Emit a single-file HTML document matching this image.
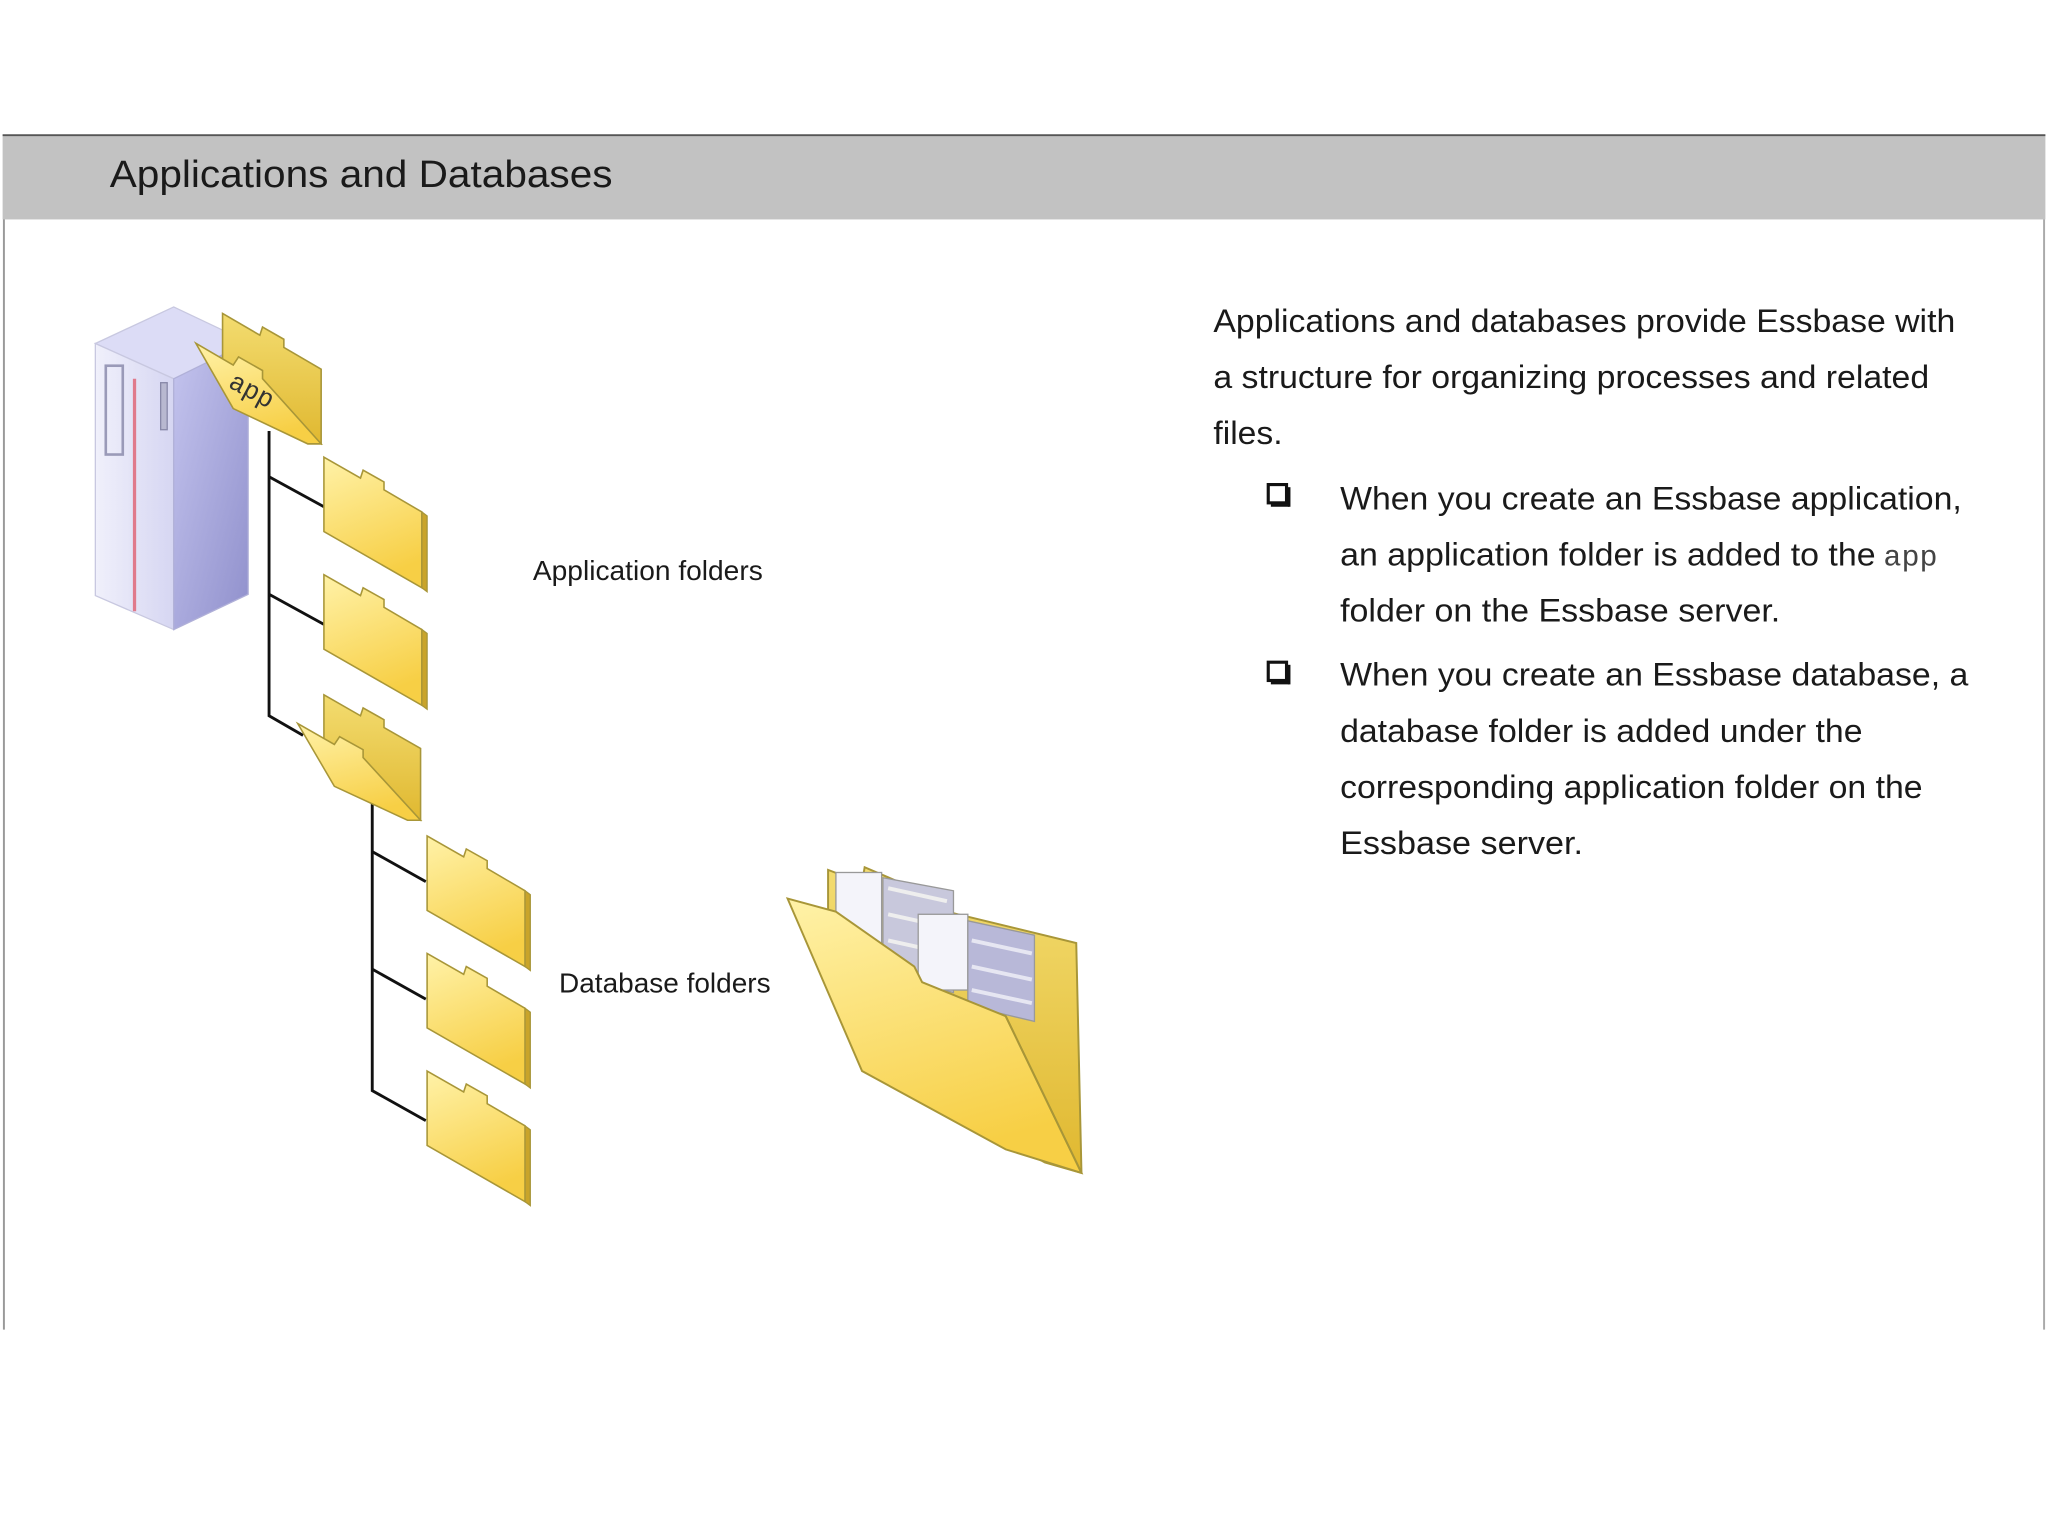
<!DOCTYPE html>
<html><head><meta charset="utf-8"><style>
html,body{margin:0;padding:0;background:#fff;width:2048px;height:1536px;overflow:hidden}
svg{display:block}
text{font-family:"Liberation Sans",Arial,sans-serif;fill:#1a1a1a}
</style></head><body>
<svg width="2048" height="1536" viewBox="0 0 1568 1176" xmlns="http://www.w3.org/2000/svg">
<defs>
<linearGradient id="fy" x1="0" y1="0" x2="0.3" y2="1">
<stop offset="0" stop-color="#fff2a8"/><stop offset="1" stop-color="#f7cf45"/></linearGradient>
<linearGradient id="fyd" x1="0" y1="0" x2="0" y2="1">
<stop offset="0" stop-color="#f3dc70"/><stop offset="1" stop-color="#e0b830"/></linearGradient>
<linearGradient id="sf" x1="0" y1="0" x2="1" y2="0">
<stop offset="0" stop-color="#f0f0fb"/><stop offset="1" stop-color="#d6d6f2"/></linearGradient>
<linearGradient id="ss" x1="0" y1="0" x2="1" y2="1">
<stop offset="0" stop-color="#c4c4ee"/><stop offset="1" stop-color="#9090cc"/></linearGradient>
<g id="fold">
<path d="M0,0 L28,16 L30,10 L46,19 L46,25 L75,42 L75,100 L0,57 Z" fill="url(#fy)" stroke="#a89638" stroke-width="1.2"/>
<path d="M75,42 L79,45 L79,103 L75,100 Z" fill="#c9a42a" stroke="#a89638" stroke-width="1"/>
</g>
<g id="ofold">
<path d="M20,0 L48,16 L50,10 L66,19 L66,25 L94,41 L94,96 L20,53 Z" fill="url(#fyd)" stroke="#a89638" stroke-width="1.2"/>
<path d="M0,22 L28,38 L32,32 L50,42 L50,48 L94,96 L84,96 L28,70 Z" fill="url(#fy)" stroke="#a89638" stroke-width="1.2"/>
</g>
</defs>
<rect x="0" y="0" width="1568" height="1176" fill="#fff"/>
<rect x="2" y="103" width="1564" height="65" fill="#c2c2c2"/>
<line x1="2" y1="103.5" x2="1566" y2="103.5" stroke="#555" stroke-width="1.5"/>
<line x1="3" y1="168" x2="3" y2="1018" stroke="#999" stroke-width="1.5"/>
<line x1="1565" y1="168" x2="1565" y2="1018" stroke="#aaa" stroke-width="1.5"/>
<text x="84" y="143" font-size="29" textLength="385" lengthAdjust="spacingAndGlyphs">Applications and Databases</text>

<path d="M73,263 L133,235 L190,262 L133,290 Z" fill="#dcdcf6" stroke="#c8c8e0"/>
<path d="M73,263 L133,290 L133,482 L73,456 Z" fill="url(#sf)" stroke="#c8c8e0"/>
<path d="M133,290 L190,262 L190,455 L133,482 Z" fill="url(#ss)" stroke="#b0b0d8"/>
<rect x="81" y="280" width="13" height="68" fill="none" stroke="#9a9ab8" stroke-width="2"/>
<line x1="103" y1="290" x2="103" y2="468" stroke="#e07a8c" stroke-width="2.5"/>
<rect x="123" y="293" width="5" height="36" fill="#b8b8d0" stroke="#8888a8"/>

<g stroke="#111" stroke-width="2.2" fill="none">
<polyline points="206,330 206,548 232,563"/>
<polyline points="206,365 248,388"/>
<polyline points="206,455 248,478"/>
<polyline points="285,615 285,835 326,858"/>
<polyline points="285,652 326,675"/>
<polyline points="285,742 326,765"/>
</g>

<use href="#ofold" transform="translate(150,240) scale(1.02,1.04)"/>
<text x="0" y="0" font-size="20" transform="translate(174,296) rotate(28)" style="fill:#333;font-family:'Liberation Mono',monospace">app</text>

<use href="#fold" transform="translate(248,350)"/>
<use href="#fold" transform="translate(248,440)"/>
<use href="#ofold" transform="translate(228,532)"/>
<use href="#fold" transform="translate(327,640)"/>
<use href="#fold" transform="translate(327,730)"/>
<use href="#fold" transform="translate(327,820)"/>

<text x="408" y="444" font-size="21" textLength="176" lengthAdjust="spacingAndGlyphs">Application folders</text>
<text x="428" y="760" font-size="21" textLength="162" lengthAdjust="spacingAndGlyphs">Database folders</text>

<g>
<path d="M634,666 L660,676 L662,664 L690,676 L692,690 L824,722 L828,898 L800,890 L690,830 L634,700 Z" fill="url(#fyd)" stroke="#a89638" stroke-width="1.5"/>
<rect x="640" y="668" width="35" height="60" fill="#f4f4fa" stroke="#999"/>
<path d="M676,672 L730,682 L730,760 L676,745 Z" fill="#c8c8dc" stroke="#999"/>
<path d="M680,680 L725,690 M680,700 L725,710 M680,720 L725,730" stroke="#eee" stroke-width="3"/>
<rect x="703" y="700" width="38" height="58" fill="#f4f4fa" stroke="#999"/>
<path d="M741,705 L792,716 L792,782 L741,770 Z" fill="#b8b8d8" stroke="#999"/>
<path d="M744,720 L790,730 M744,740 L790,750 M744,758 L790,768" stroke="#e6e6f2" stroke-width="3"/>
<path d="M603,688 L640,698 L700,740 L706,752 L770,778 L828,898 L770,880 L660,820 Z" fill="url(#fy)" stroke="#a89638" stroke-width="1.5"/>
<path d="M770,778 L828,898" stroke="#a89638" stroke-width="1.5"/>
</g>

<g font-size="25">
<text x="929" y="254" textLength="568" lengthAdjust="spacingAndGlyphs">Applications and databases provide Essbase with</text>
<text x="929" y="297" textLength="548" lengthAdjust="spacingAndGlyphs">a structure for organizing processes and related</text>
<text x="929" y="340" textLength="53" lengthAdjust="spacingAndGlyphs">files.</text>
<text x="1026" y="390" textLength="476" lengthAdjust="spacingAndGlyphs">When you create an Essbase application,</text>
<text x="1026" y="433" textLength="410" lengthAdjust="spacingAndGlyphs">an application folder is added to the</text>
<text x="1442" y="433" font-size="23" style="fill:#444;font-family:'Liberation Mono',monospace">app</text>
<text x="1026" y="476" textLength="337" lengthAdjust="spacingAndGlyphs">folder on the Essbase server.</text>
<text x="1026" y="525" textLength="481" lengthAdjust="spacingAndGlyphs">When you create an Essbase database, a</text>
<text x="1026" y="568" textLength="400" lengthAdjust="spacingAndGlyphs">database folder is added under the</text>
<text x="1026" y="611" textLength="446" lengthAdjust="spacingAndGlyphs">corresponding application folder on the</text>
<text x="1026" y="654" textLength="186" lengthAdjust="spacingAndGlyphs">Essbase server.</text>
</g>
<g fill="none" stroke="#111" stroke-width="2.4">
<rect x="971" y="371" width="14" height="14"/>
<rect x="971" y="507" width="14" height="14"/>
</g>
<g stroke="#111" stroke-width="2"><line x1="987" y1="373" x2="987" y2="388"/><line x1="973" y1="387" x2="987" y2="387"/>
<line x1="987" y1="509" x2="987" y2="524"/><line x1="973" y1="523" x2="987" y2="523"/></g>
</svg>
</body></html>
